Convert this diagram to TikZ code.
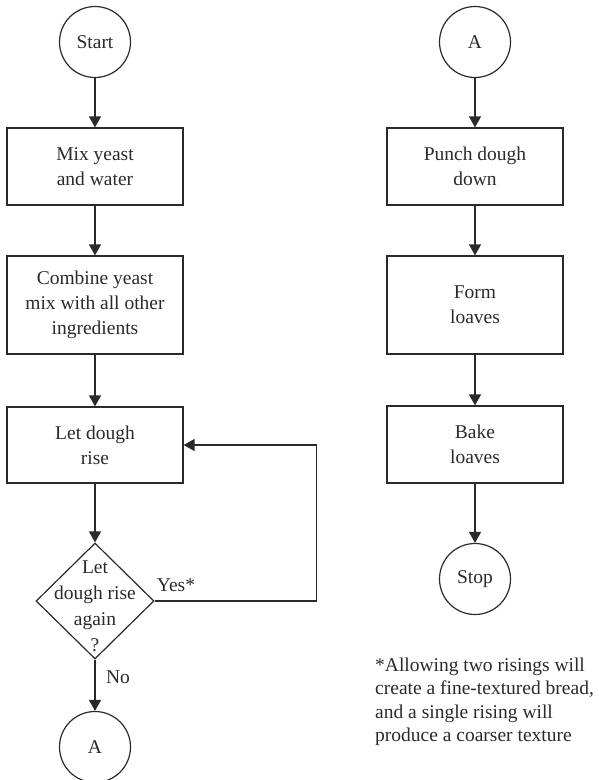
\documentclass[tikz,border=0pt]{standalone}
\usepackage{fontspec}
\setmainfont{Liberation Serif}
\usetikzlibrary{shapes.geometric,arrows.meta}
\definecolor{ink}{HTML}{2A2A2A}
\begin{document}
\begin{tikzpicture}[x=1pt,y=-1pt,
  font=\fontsize{19.5}{25}\selectfont,
  every node/.style={text=ink},
  terminal/.style={draw=ink,line width=1.2pt,circle,minimum size=71pt,inner sep=0pt},
  process/.style={draw=ink,line width=1.2pt,rectangle,minimum width=176pt,align=center,inner sep=0pt},
  decision/.style={draw=ink,line width=1.2pt,diamond,minimum width=118pt,minimum height=116pt,inner sep=0pt},
  flow/.style={draw=ink,line width=1.2pt,-{Triangle[width=12pt,length=11pt]}}]
\useasboundingbox (0,0) rectangle (599,780);

% left column
\node[terminal] (start) at (95,42) {Start};
\node[process,minimum height=77pt] (mix) at (95,166.5) {Mix yeast\\and water};
\node[process,minimum height=98pt] (comb) at (95,305) {Combine yeast\\mix with all other\\ingredients};
\node[process,minimum height=76pt] (rise) at (95,445) {Let dough\\rise};
\node[decision] (q) at (95,601) {};
\node[align=center,inner sep=0pt,font=\fontsize{19.5}{26}\selectfont] (qtext) at (95,606) {Let\\dough rise\\again\\?};
\node[terminal] (a1) at (95,747) {A};

% right column
\node[terminal] (a2) at (475,42) {A};
\node[process,minimum height=77pt] (punch) at (475,166.5) {Punch dough\\down};
\node[process,minimum height=98pt] (form) at (475,305) {Form\\loaves};
\node[process,minimum height=77pt] (bake) at (475,444.5) {Bake\\loaves};
\node[terminal] (stop) at (475,579) {Stop};

% connectors
\draw[flow] (start) -- (mix);
\draw[flow] (mix) -- (comb);
\draw[flow] (comb) -- (rise);
\draw[flow] (rise) -- (q);
\draw[flow] (q) -- (a1);
\draw[flow] (q.east) -- ++(162,0) |- (rise.east);
\draw[flow] (a2) -- (punch);
\draw[flow] (punch) -- (form);
\draw[flow] (form) -- (bake);
\draw[flow] (bake) -- (stop);

% branch labels
\node[inner sep=0pt] (yes) at (176,585) {Yes*};
\node[inner sep=0pt] (no) at (118,677) {No};

% footnote
\node[anchor=west,align=left,inner sep=0pt,font=\fontsize{19.5}{23.5}\selectfont] (note) at (375,702)
  {*Allowing two risings will\\create a fine-textured bread,\\and a single rising will\\produce a coarser texture};
\end{tikzpicture}
\end{document}
